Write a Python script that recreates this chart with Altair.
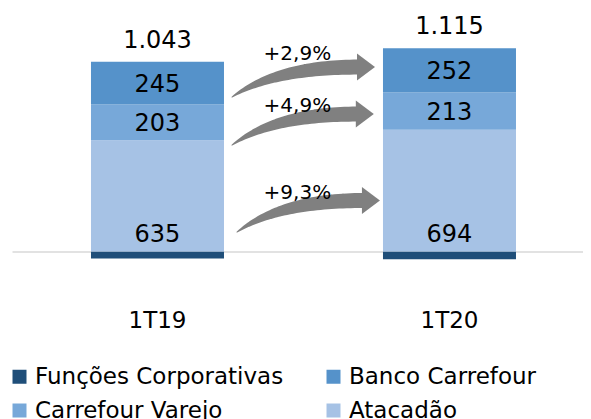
import altair as alt
import pandas as pd
import numpy as np

# ---------------- data ----------------
periods = ["1T19", "1T20"]
funcoes = [-40, -44]
atacadao = [635, 694]
varejo = [203, 213]
banco = [245, 252]
totals = [1043, 1115]

# legend is laid out column by column
series = ["Funções Corporativas", "Carrefour Varejo", "Banco Carrefour", "Atacadão"]
colors = ["#1F4E79", "#77A8D9", "#5592CA", "#A6C2E5"]

growth_labels = ["+2,9%", "+4,9%", "+9,3%"]
arrow_tail_x = [0.255, 0.255, 0.272]
arrow_tail_v = [881, 607, 111]
arrow_tip_x = [0.745, 0.741, 0.762]
arrow_head_v = [1052, 784, 291]
growth_label_x = [0.479, 0.479, 0.479]
growth_label_v = [1135, 841, 345]

FONT = "DejaVu Sans"
ARROW = "#808080"


def fmt(n):
    return f"{n:,}".replace(",", ".")


# ---------------- tables ----------------
rows = []
for i, p in enumerate(periods):
    a, v, b, f = atacadao[i], varejo[i], banco[i], funcoes[i]
    rows.append(dict(period=p, series="Funções Corporativas", y0=0, y1=f, value=f))
    rows.append(dict(period=p, series="Atacadão", y0=0, y1=a, value=a))
    rows.append(dict(period=p, series="Carrefour Varejo", y0=a, y1=a + v, value=v))
    rows.append(dict(period=p, series="Banco Carrefour", y0=a + v, y1=a + v + b, value=b))
bars_df = pd.DataFrame(rows)
bars_df["mid"] = (bars_df["y0"] + bars_df["y1"]) / 2
bars_df["label"] = bars_df["value"].map(fmt)

tot_df = pd.DataFrame({
    "period": periods,
    "top": [atacadao[i] + varejo[i] + banco[i] for i in range(2)],
    "label": [fmt(t) for t in totals],
})

trail_rows, head_rows = [], []
HEAD_LEN = 0.062
for k in range(3):
    x0, v0 = arrow_tail_x[k], arrow_tail_v[k]
    xb = arrow_tip_x[k] - HEAD_LEN + 0.004
    vh = arrow_head_v[k]
    cx, cv = x0 + 0.35 * (xb - x0), vh
    for j, t in enumerate(np.linspace(0, 1, 40)):
        bx = (1 - t) ** 2 * x0 + 2 * (1 - t) * t * cx + t ** 2 * xb
        bv = (1 - t) ** 2 * v0 + 2 * (1 - t) * t * cv + t ** 2 * vh
        w = 1 + 14 * (1 - (1 - t) ** 2)
        trail_rows.append(dict(arrow=k, ord=j, fx=bx, v=bv, w=w))
    head_rows.append(dict(arrow=k, fx=arrow_tip_x[k] - HEAD_LEN / 2, v=vh))
trail_df = pd.DataFrame(trail_rows)
head_df = pd.DataFrame(head_rows)
glab_df = pd.DataFrame({"fx": growth_label_x, "v": growth_label_v, "label": growth_labels})

# ---------------- scales ----------------
YS = alt.Scale(domain=[0, 1000], range=[243.5, 68.2], nice=False, zero=False)
XS = alt.Scale(range=[4, 575], paddingInner=0.5445, paddingOuter=0.25, align=0.541)
XA = alt.Scale(domain=[0, 1], range=[149.5, 441.5], nice=False, zero=False)

XAXIS = alt.Axis(domain=True, domainColor="#D9D9D9", domainWidth=1.5,
                 ticks=False, tickSize=0, grid=False, labelAngle=0,
                 labelFont=FONT, labelFontSize=23, labelColor="black",
                 labelPadding=58, offset=-167.5, title=None)
x_band = alt.X("period:N", scale=XS, sort=periods, title=None, axis=XAXIS)

bars = alt.Chart(bars_df).mark_bar().encode(
    x=x_band,
    y=alt.Y("y0:Q", scale=YS, axis=None),
    y2="y1:Q",
    color=alt.Color("series:N", scale=alt.Scale(domain=series, range=colors),
                    legend=alt.Legend(title=None, orient="none", legendX=0, legendY=357,
                                      columns=2, columnPadding=38, rowPadding=10,
                                      symbolType="square", symbolSize=196,
                                      symbolStrokeWidth=0, labelFont=FONT,
                                      labelFontSize=23, labelColor="black",
                                      labelLimit=400, padding=0, labelOffset=4)),
)

mid_text = alt.Chart(bars_df).transform_filter(
    alt.FieldOneOfPredicate(field="series", oneOf=["Banco Carrefour", "Carrefour Varejo"])
).mark_text(font=FONT, fontSize=24, color="black", baseline="middle", dy=1.5).encode(
    x=x_band, y=alt.Y("mid:Q", scale=YS, axis=None), text="label:N")

base_text = alt.Chart(bars_df).transform_filter(
    alt.datum.series == "Atacadão"
).mark_text(font=FONT, fontSize=24, color="black", baseline="alphabetic", dy=-10).encode(
    x=x_band, y=alt.Y("y0:Q", scale=YS, axis=None), text="label:N")

tot_text = alt.Chart(tot_df).mark_text(font=FONT, fontSize=24, color="black",
                                       baseline="alphabetic", dy=-14).encode(
    x=x_band, y=alt.Y("top:Q", scale=YS, axis=None), text="label:N")

trail = alt.Chart(trail_df).mark_trail(color=ARROW).encode(
    x=alt.X("fx:Q", scale=XA, axis=None),
    y=alt.Y("v:Q", scale=YS, axis=None),
    size=alt.Size("w:Q", scale=None, legend=None),
    detail="arrow:N",
    order="ord:Q",
)

heads = alt.Chart(head_df).mark_point(
    shape="M-0.667,-1L0.667,0L-0.667,1Z", filled=True, size=729,
    color=ARROW, opacity=1, strokeWidth=0,
).encode(x=alt.X("fx:Q", scale=XA, axis=None), y=alt.Y("v:Q", scale=YS, axis=None))

glabels = alt.Chart(glab_df).mark_text(font=FONT, fontSize=20, color="black",
                                       baseline="middle", dy=1.5).encode(
    x=alt.X("fx:Q", scale=XA, axis=None), y=alt.Y("v:Q", scale=YS, axis=None),
    text="label:N")

left = alt.layer(bars, mid_text, base_text, tot_text)
right = alt.layer(trail, heads, glabels)

chart = alt.layer(left, right).resolve_scale(x="independent").properties(
    width=575, height=411, padding=0,
    autosize=alt.AutoSizeParams(type="none"),
).configure_view(stroke=None)

chart.save("out.html", embed_options={"renderer": "svg", "actions": False})
